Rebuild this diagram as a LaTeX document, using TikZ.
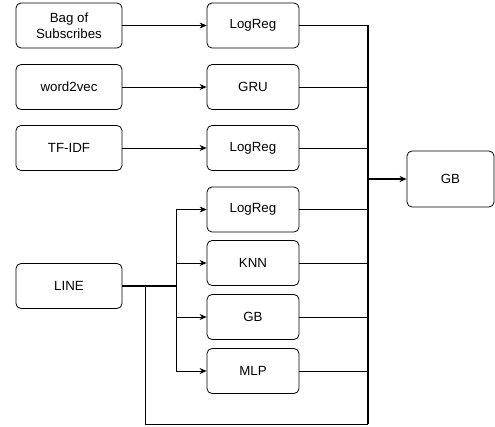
\documentclass[tikz,border=0pt]{standalone}
\usepackage{fontspec}
\setmainfont{Liberation Sans}
\usetikzlibrary{arrows.meta}
\begin{document}
\begin{tikzpicture}[x=1pt,y=-1pt,
  box/.style={draw=black,line width=0.8pt,rounded corners=5pt,align=center,
    font=\fontsize{13.3}{16}\selectfont,inner sep=0pt},
  conn/.style={line width=0.9pt},
  thickconn/.style={line width=1.6pt},
  arr/.style={-{Stealth[length=7pt,width=6pt]}}]
\useasboundingbox (0,0) rectangle (495,427);
% left boxes
\node[box,minimum width=106pt,minimum height=45pt] (bag) at (69,25.5) {Bag of\\Subscribes};
\node[box,minimum width=106pt,minimum height=45pt] (w2v) at (69,87) {word2vec};
\node[box,minimum width=106pt,minimum height=45pt] (tfidf) at (69,148) {TF-IDF};
\node[box,minimum width=106pt,minimum height=45pt] (line) at (69,286) {LINE};
% middle boxes
\node[box,minimum width=92pt,minimum height=45pt] (lr1) at (253,25.5) {LogReg};
\node[box,minimum width=92pt,minimum height=45pt] (gru) at (253,87) {GRU};
\node[box,minimum width=92pt,minimum height=45pt] (lr3) at (253,148) {LogReg};
\node[box,minimum width=92pt,minimum height=45pt] (lr2) at (253,209.5) {LogReg};
\node[box,minimum width=92pt,minimum height=45pt] (knn) at (253,263) {KNN};
\node[box,minimum width=92pt,minimum height=45pt] (gbm) at (253,317) {GB};
\node[box,minimum width=92pt,minimum height=45pt] (mlp) at (253,371) {MLP};
% right box
\node[box,minimum width=87pt,minimum height=56pt] (gb) at (450.5,179) {GB};
% coordinates
\coordinate (busTop) at (368,25.5);
\coordinate (busBot) at (368,424);
\coordinate (busOut) at (368,179);
\coordinate (split) at (176,286);
\coordinate (splitTop) at (176,209.5);
\coordinate (splitBot) at (176,371);
\coordinate (loopA) at (145,286);
\coordinate (loopB) at (145,424);
% input arrows
\draw[conn,arr] (bag) -- (lr1);
\draw[conn,arr] (w2v) -- (gru);
\draw[conn,arr] (tfidf) -- (lr3);
% LINE branching
\draw[thickconn] (line.east) -- (split);
\draw[conn] (splitTop) -- (splitBot);
\draw[conn,arr] (splitTop) -- (lr2);
\draw[conn,arr] (176,263) -- (knn);
\draw[conn,arr] (176,317) -- (gbm);
\draw[conn,arr] (splitBot) -- (mlp);
% loop around bottom
\draw[conn] (loopA) -- (loopB) -- (busBot);
% outputs to bus
\draw[conn] (lr1) -- (busTop);
\draw[conn] (gru) -- (368,87);
\draw[conn] (lr3) -- (368,148);
\draw[conn] (lr2) -- (368,209.5);
\draw[conn] (knn) -- (368,263);
\draw[conn] (gbm) -- (368,317);
\draw[conn] (mlp) -- (368,371);
\draw[thickconn] (busTop) -- (busBot);
\draw[thickconn,arr] (busOut) -- (gb);
\end{tikzpicture}
\end{document}
